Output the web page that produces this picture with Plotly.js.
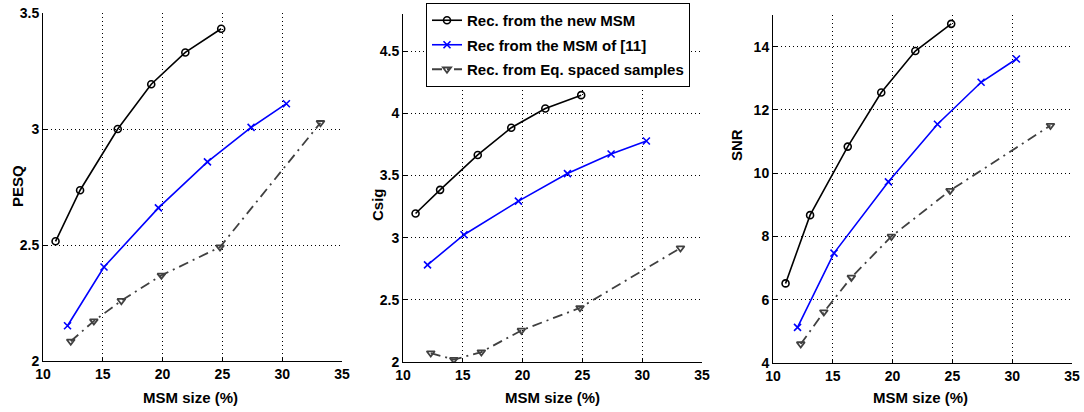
<!DOCTYPE html>
<html>
<head>
<meta charset="utf-8">
<script src="https://cdn.plot.ly/plotly-3.0.1.min.js"></script>
<style>html,body{margin:0;padding:0;background:#fff;}#chart{width:1084px;height:412px;}</style>
</head>
<body>
<div id="chart"></div>
<script>
// Series names
const seriesNames = ["Rec. from the new MSM", "Rec from the MSM of [11]", "Rec. from Eq. spaced samples"];

// x values (MSM size, %)
const xNew = [11.05, 13.1, 16.25, 19.05, 21.9, 24.9];
const xOld = [12.05, 15.1, 19.65, 23.75, 27.4, 30.35];
const xEq  = [12.32, 14.25, 16.55, 19.9, 24.8, 33.2];

// PESQ
const pesqNew = [2.516, 2.736, 3.0, 3.193, 3.33, 3.432];
const pesqOld = [2.152, 2.405, 2.66, 2.858, 3.007, 3.109];
const pesqEq  = [2.085, 2.172, 2.26, 2.369, 2.491, 3.027];

// Csig
const csigNew = [3.195, 3.385, 3.666, 3.885, 4.04, 4.147];
const csigOld = [2.781, 3.024, 3.294, 3.516, 3.674, 3.778];
const csigEq  = [2.072, 2.019, 2.08, 2.254, 2.436, 2.917];

// SNR
const snrNew = [6.516, 8.674, 10.84, 12.55, 13.86, 14.72];
const snrOld = [5.126, 7.474, 9.726, 11.547, 12.874, 13.61];
const snrEq  = [4.6, 5.61, 6.705, 8.0, 9.45, 11.505];

const yTitles = ["PESQ", "Csig", "SNR"];
const xTitle = "MSM size (%)";

const FONT = "Liberation Sans, Arial, Helvetica, sans-serif";
const GRAY = "#404040";

function mk(x, y, kind, axIdx, showLeg) {
  const xa = axIdx === 1 ? "x" : "x" + axIdx;
  const ya = axIdx === 1 ? "y" : "y" + axIdx;
  const base = {x: x, y: y, xaxis: xa, yaxis: ya, type: "scatter", mode: "lines+markers",
    showlegend: showLeg, legendgroup: "g" + kind, name: seriesNames[kind], hoverinfo: "skip"};
  if (kind === 0) {
    base.line = {color: "#000", width: 1.6};
    base.marker = {symbol: "circle-open", size: 7, color: "#000", line: {width: 1.6, color: "#000"}};
  } else if (kind === 1) {
    base.line = {color: "#0000ff", width: 1.6};
    base.marker = {symbol: "x-thin-open", size: 7, color: "#0000ff", line: {width: 1.6, color: "#0000ff"}};
  } else {
    base.line = {color: GRAY, width: 1.8, dash: "10px,5px,2px,5px"};
    base.marker = {symbol: "triangle-down-open", size: 7, color: GRAY, line: {width: 1.8, color: GRAY}};
  }
  return base;
}

const data = [
  mk(xNew, pesqNew, 0, 1, false), mk(xOld, pesqOld, 1, 1, false), mk(xEq, pesqEq, 2, 1, false),
  mk(xNew, csigNew, 0, 2, true),  mk(xOld, csigOld, 1, 2, true),  mk(xEq, csigEq, 2, 2, true),
  mk(xNew, snrNew, 0, 3, false),  mk(xOld, snrOld, 1, 3, false),  mk(xEq, snrEq, 2, 3, false)
];

function xax(domain, anchor) {
  return {domain: domain, anchor: anchor, range: [10, 35], tick0: 10, dtick: 5,
    showline: true, linecolor: "#000", linewidth: 1, ticks: "inside", ticklen: 4, tickcolor: "#000",
    showgrid: true, gridcolor: "#000", gridwidth: 1, griddash: "1px,3px", zeroline: false,
    tickfont: {family: FONT, size: 14, color: "#000", weight: "bold"},
    automargin: false, fixedrange: true};
}
function yax(domain, anchor, range, dtick) {
  return {domain: domain, anchor: anchor, range: range, tick0: 0, dtick: dtick,
    showline: true, linecolor: "#000", linewidth: 1, ticks: "inside", ticklen: 4, tickcolor: "#000",
    showgrid: true, gridcolor: "#000", gridwidth: 1, griddash: "1px,3px", zeroline: false,
    tickfont: {family: FONT, size: 14, color: "#000", weight: "bold"},
    automargin: false, fixedrange: true};
}

const titleFont = {family: FONT, size: 15, color: "#000", weight: "bold"};
const xCenters = [190, 552, 920];
const yCenters = [186, 205, 145];
const yTitleX = [17, 377, 737];
const annotations = [];
for (let i = 0; i < 3; i++) {
  annotations.push({xref: "paper", yref: "paper", x: xCenters[i] / 1084, y: (412 - 397) / 412,
    xanchor: "center", yanchor: "middle", text: xTitle, showarrow: false, font: titleFont});
  annotations.push({xref: "paper", yref: "paper", x: yTitleX[i] / 1084, y: (412 - yCenters[i]) / 412,
    xanchor: "center", yanchor: "middle", text: yTitles[i], showarrow: false, textangle: -90, font: titleFont});
}

const layout = {
  width: 1084, height: 412,
  margin: {l: 0, r: 0, t: 0, b: 0},
  paper_bgcolor: "#fff", plot_bgcolor: "#fff",
  font: {family: FONT, color: "#000"},
  xaxis:  xax([43/1084, 342/1084], "y"),
  xaxis2: xax([403/1084, 702/1084], "y2"),
  xaxis3: xax([773/1084, 1072/1084], "y3"),
  yaxis:  yax([51/412, 399/412], "x", [2, 3.5], 0.5),
  yaxis2: yax([50/412, 398/412], "x2", [2, 4.8], 0.5),
  yaxis3: yax([49/412, 397/412], "x3", [4, 15], 2),
  annotations: annotations,
  showlegend: true,
  legend: {x: 426/1084, y: 409/412, xanchor: "left", yanchor: "top",
    bgcolor: "#fff", bordercolor: "#000", borderwidth: 1,
    font: {family: FONT, size: 15, color: "#000", weight: "bold"},
    traceorder: "grouped", tracegroupgap: 2, itemwidth: 30}
};

Plotly.newPlot("chart", data, layout, {staticPlot: true, displayModeBar: false});
</script>
</body>
</html>
